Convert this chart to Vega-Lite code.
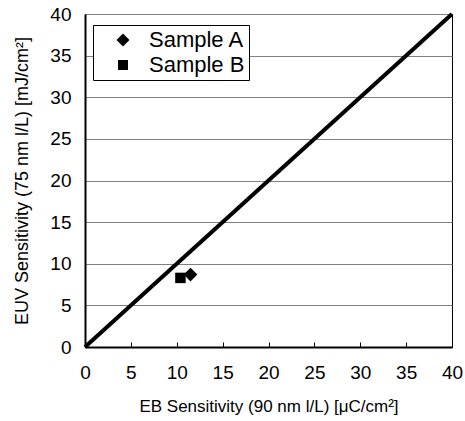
{
  "$schema": "https://vega.github.io/schema/vega-lite/v6.json",
  "width": 367,
  "height": 333,
  "autosize": {"type": "none"},
  "padding": {"left": 85, "top": 14, "right": 13, "bottom": 74},
  "background": "white",
  "config": {
    "font": "Liberation Sans",
    "view": {"stroke": "black", "strokeWidth": 1},
    "axis": {
      "labelFont": "Liberation Sans",
      "titleFont": "Liberation Sans",
      "labelColor": "black",
      "titleColor": "black",
      "labelFontSize": 19,
      "titleFontSize": 17,
      "titleFontWeight": "normal",
      "domainColor": "black",
      "domainWidth": 2,
      "tickColor": "black",
      "labelFlush": false
    }
  },
  "layer": [
    {
      "data": {"values": [{"x": 0, "y": 0, "x2": 40, "y2": 40}]},
      "mark": {"type": "rule", "stroke": "black", "strokeWidth": 4},
      "encoding": {
        "x": {"field": "x", "type": "quantitative", "scale": {"domain": [0, 40], "nice": false},
          "axis": {"values": [0,5,10,15,20,25,30,35,40], "grid": false, "tickSize": -5, "labelPadding": 21, "labelBaseline": "top", "title": "EB Sensitivity (90 nm l/L) [μC/cm²]", "titlePadding": 16}},
        "y": {"field": "y", "type": "quantitative", "scale": {"domain": [0, 40], "nice": false},
          "axis": {"values": [0,5,10,15,20,25,30,35,40], "grid": true, "gridColor": "#808080", "gridWidth": 1, "gridOpacity": 1, "ticks": false, "labelPadding": 14, "title": "EUV Sensitivity (75 nm l/L) [mJ/cm²]", "titleFontSize": 18, "titlePadding": 18}},
        "x2": {"field": "x2"},
        "y2": {"field": "y2"}
      }
    },
    {
      "data": {"values": [
        {"sample": "Sample A", "eb": 11.5, "euv": 8.7},
        {"sample": "Sample B", "eb": 10.4, "euv": 8.3}
      ]},
      "mark": {"type": "point", "filled": true, "opacity": 1, "color": "black", "size": 110},
      "encoding": {
        "x": {"field": "eb", "type": "quantitative"},
        "y": {"field": "euv", "type": "quantitative"},
        "shape": {"field": "sample", "type": "nominal",
          "scale": {"domain": ["Sample A", "Sample B"], "range": ["M-1.3,0L0,-1.3L1.3,0L0,1.3Z", "square"]},
          "legend": {"title": null, "orient": "none", "legendX": 8, "legendY": 11,
            "strokeColor": "black", "fillColor": "white", "padding": 4,
            "symbolOffset": 15, "symbolSize": 100, "symbolFillColor": "black", "symbolStrokeWidth": 0,
            "labelFont": "Liberation Sans", "labelFontSize": 22, "labelColor": "black", "labelOffset": 15,
            "rowPadding": 3}}
      }
    }
  ]
}
